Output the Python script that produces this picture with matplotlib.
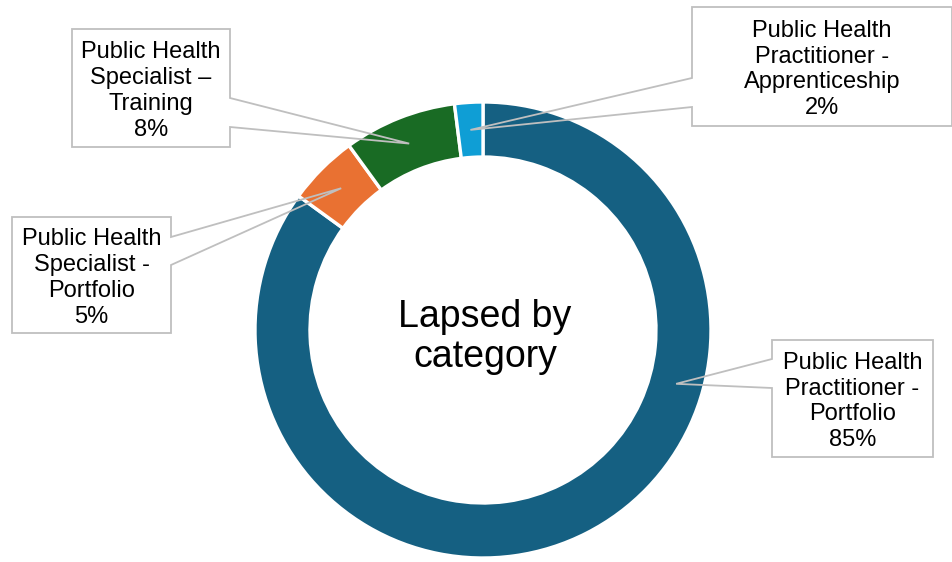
import matplotlib.pyplot as plt
from matplotlib.patches import Polygon, Rectangle
import numpy as np

W, H = 953, 562

categories = [
    "Public Health\nPractitioner -\nPortfolio",
    "Public Health\nSpecialist -\nPortfolio",
    "Public Health\nSpecialist \u2013\nTraining",
    "Public Health\nPractitioner -\nApprenticeship",
]
values = [85, 5, 8, 2]
colors = ["#156082", "#E97132", "#196B24", "#0F9ED5"]

# label boxes in pixel coords (top-left origin): x0, y0, x1, y1, side, attach y's
boxes = [
    (772, 340, 933, 457, "left", 359, 388),
    (12, 217, 171, 333, "right", 237, 265),
    (72, 29, 230, 147, "right", 98, 127),
    (692, 7, 952, 126, "left", 78, 107),
]
# where along each wedge the callout points (0 = start, 1 = end)
tip_frac = [0.345, 0.5, 0.5, 0.5]

plt.rcParams["font.family"] = ["Liberation Sans", "DejaVu Sans"]

fig = plt.figure(figsize=(W / 100, H / 100), dpi=100)
ax = fig.add_axes([0, 0, 1, 1])

cx, cy = 483, H - 330
R, ring = 228, 55

wedges, _ = ax.pie(
    values,
    colors=colors,
    startangle=90,
    counterclock=False,
    radius=R,
    center=(cx, cy),
    wedgeprops=dict(width=ring, edgecolor="white", linewidth=2.4),
)

ax.set_xlim(0, W)
ax.set_ylim(0, H)
ax.set_aspect("equal")
ax.axis("off")

ax.text(cx + 2, cy - 7, "Lapsed by\ncategory", ha="center", va="center",
        fontsize=27, linespacing=1.12)

r_mid = R - ring / 2
for w, label, val, box, f in zip(wedges, categories, values, boxes, tip_frac):
    ang = np.deg2rad(w.theta2 - f * (w.theta2 - w.theta1))
    tip = (cx + r_mid * np.cos(ang), cy + r_mid * np.sin(ang))
    x0, y0, x1, y1, side, ya, yb = box
    y0, y1, ya, yb = H - y0, H - y1, H - ya, H - yb
    if side == "right":
        pts = [(x0, y0), (x1, y0), (x1, ya), tip, (x1, yb), (x1, y1), (x0, y1)]
    else:
        pts = [(x0, y0), (x1, y0), (x1, y1), (x0, y1), (x0, yb), tip, (x0, ya)]
    ax.add_patch(Rectangle((x0, y1), x1 - x0, y0 - y1, facecolor="white",
                           edgecolor="none", zorder=3))
    ax.add_patch(Polygon(pts, closed=True, fill=False, edgecolor="#BFBFBF",
                         linewidth=1.3, zorder=4))
    ax.text((x0 + x1) / 2, (y0 + y1) / 2 - 3, f"{label}\n{val}%", ha="center",
            va="center", fontsize=17, linespacing=1.22, zorder=5)

fig.savefig("out.png", dpi=100)
